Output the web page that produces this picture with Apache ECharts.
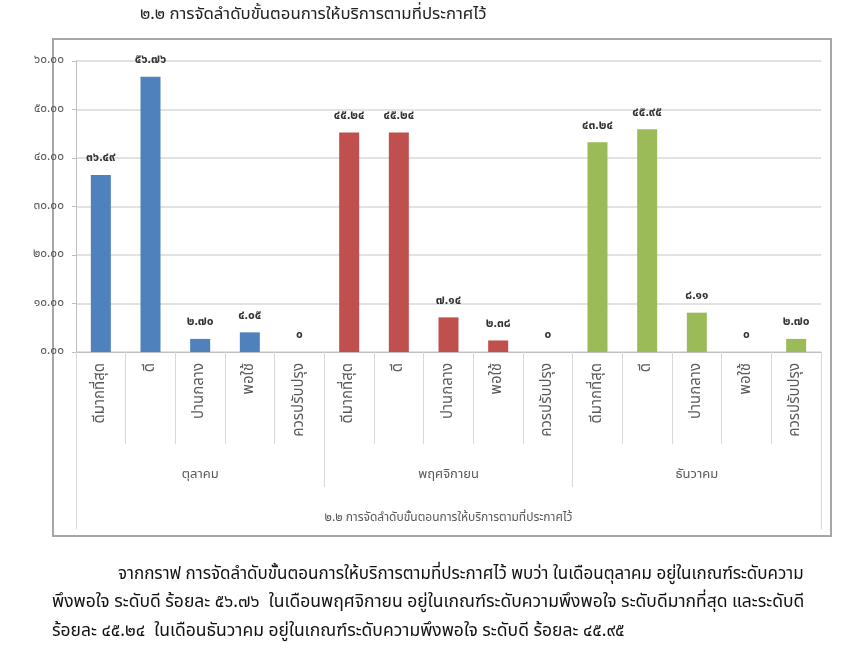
<!DOCTYPE html>
<html>
<head>
<meta charset="utf-8">
<script src="https://cdn.jsdelivr.net/npm/echarts@6/dist/echarts.min.js"></script>
<style>
  html, body { margin: 0; padding: 0; background: #fff; }
  #chart { width: 850px; height: 660px; }
</style>
</head>
<body>
<div id="chart"></div>
<script>
// Satisfaction levels (inner axis) and months (outer axis)
const levels = ['ดีมากที่สุด', 'ดี', 'ปานกลาง', 'พอใช้', 'ควรปรับปรุง'];
const months = ['ตุลาคม', 'พฤศจิกายน', 'ธันวาคม'];

// Percentages per month
const octValues = [36.49, 56.76, 2.70, 4.05, 0];
const novValues = [45.24, 45.24, 7.14, 2.38, 0];
const decValues = [43.24, 45.95, 8.11, 0, 2.70];

const monthColors = ['#4F81BD', '#C0504D', '#9BBB59'];

const titleText = '๒.๒ การจัดลำดับขั้นตอนการให้บริการตามที่ประกาศไว้';
const bodyLines = [
  'จากกราฟ การจัดลำดับขั้นตอนการให้บริการตามที่ประกาศไว้ พบว่า ในเดือนตุลาคม อยู่ในเกณฑ์ระดับความ',
  'พึงพอใจ ระดับดี ร้อยละ ๕๖.๗๖  ในเดือนพฤศจิกายน อยู่ในเกณฑ์ระดับความพึงพอใจ ระดับดีมากที่สุด และระดับดี',
  'ร้อยละ ๔๕.๒๔  ในเดือนธันวาคม อยู่ในเกณฑ์ระดับความพึงพอใจ ระดับดี ร้อยละ ๔๕.๙๕'
];

const FONT = '"Noto Sans Thai", "Noto Sans Thai Looped", "Noto Sans", "DejaVu Sans", sans-serif';

// Convert Arabic digits to Thai digits
const thaiDigits = '๐๑๒๓๔๕๖๗๘๙';
function toThai(s) {
  return String(s).replace(/[0-9]/g, d => thaiDigits[+d]);
}

// Flattened category list: each month repeats the five levels
const categories = [];
months.forEach((m, mi) => levels.forEach((l, li) => categories.push(mi + '|' + l)));

const monthData = [octValues, novValues, decValues];
const series = monthData.map((vals, mi) => {
  const data = new Array(categories.length).fill('-');
  vals.forEach((v, i) => { data[mi * levels.length + i] = v; });
  return {
    type: 'bar',
    name: months[mi],
    data: data,
    barWidth: 20,
    barGap: '-100%',
    itemStyle: { color: monthColors[mi] },
    label: {
      show: true,
      position: 'top',
      distance: 10,
      fontFamily: FONT,
      fontSize: 12,
      fontWeight: 'bold',
      color: '#333',
      formatter: p => p.value === 0 ? toThai('0') : toThai(p.value.toFixed(2))
    }
  };
});

const chart = echarts.init(document.getElementById('chart'), null, { renderer: 'canvas' });

const axisGray = '#d9d9d9';

chart.setOption({
  animation: false,
  backgroundColor: '#fff',
  textStyle: { fontFamily: FONT },
  grid: { left: 76, right: 29, top: 61, bottom: 308, containLabel: false },
  xAxis: [
    {
      type: 'category',
      data: categories,
      position: 'bottom',
      axisLine: { show: true, lineStyle: { color: '#bfbfbf', width: 1 } },
      axisTick: { show: true, length: 92, lineStyle: { color: axisGray } },
      axisLabel: {
        rotate: 90,
        margin: 11,
        interval: 0,
        fontFamily: FONT,
        fontSize: 15,
        color: '#595959',
        formatter: v => v.split('|')[1]
      }
    },
    {
      type: 'category',
      data: months,
      position: 'bottom',
      axisLine: { show: false },
      axisTick: { show: true, length: 135, lineStyle: { color: axisGray } },
      axisLabel: {
        margin: 117,
        interval: 0,
        fontFamily: FONT,
        fontSize: 13,
        color: '#595959'
      }
    },
    {
      type: 'category',
      data: [titleText],
      position: 'bottom',
      axisLine: { show: false },
      axisTick: { show: true, length: 177, lineStyle: { color: axisGray } },
      axisLabel: {
        margin: 161,
        fontFamily: FONT,
        fontSize: 12,
        color: '#595959'
      }
    }
  ],
  yAxis: {
    type: 'value',
    min: 0,
    max: 60,
    interval: 10,
    axisLine: { show: true, lineStyle: { color: '#bfbfbf' } },
    axisTick: { show: true, length: 4, lineStyle: { color: '#bfbfbf' } },
    splitLine: { show: true, lineStyle: { color: axisGray, width: 1.5 } },
    axisLabel: {
      margin: 12,
      fontFamily: FONT,
      fontSize: 12,
      color: '#595959',
      formatter: v => toThai(v.toFixed(2))
    }
  },
  series: series,
  graphic: [
    {
      type: 'rect',
      silent: true,
      shape: { x: 53, y: 39, width: 778, height: 497 },
      style: { fill: 'none', stroke: '#a6a6a6', lineWidth: 2 },
      z: -1
    },
    {
      type: 'text',
      left: 140,
      top: 7,
      style: { text: titleText, font: '16.8px ' + FONT, fill: '#222' }
    },
    {
      type: 'text',
      left: 118,
      top: 567,
      style: { text: bodyLines[0], font: '17px ' + FONT, fill: '#111' }
    },
    {
      type: 'text',
      left: 52,
      top: 594,
      style: { text: bodyLines[1], font: '17.5px ' + FONT, fill: '#111' }
    },
    {
      type: 'text',
      left: 52,
      top: 623,
      style: { text: bodyLines[2], font: '17.5px ' + FONT, fill: '#111' }
    }
  ]
});
</script>
</body>
</html>
